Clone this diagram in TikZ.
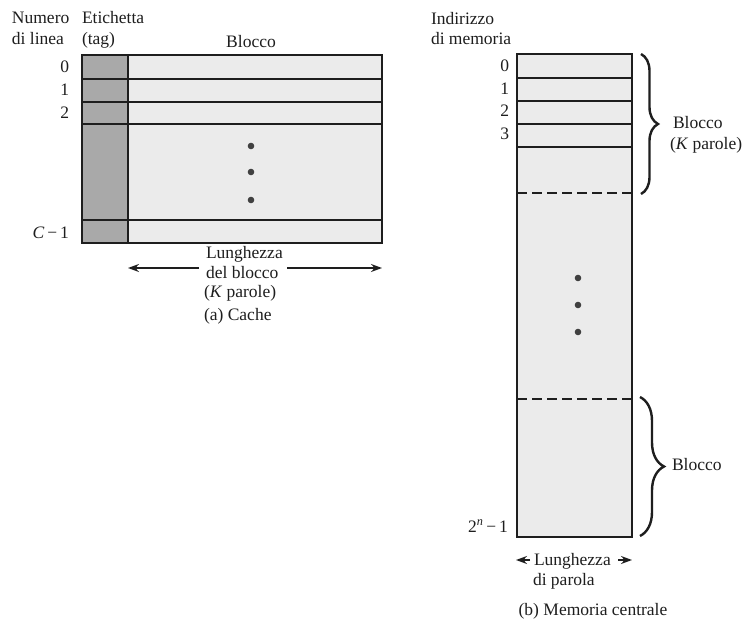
\documentclass[tikz,border=0pt]{standalone}
\usepackage{fontspec}
\setmainfont{Liberation Serif}
\usetikzlibrary{arrows.meta,decorations.pathreplacing}
\definecolor{cellfill}{HTML}{EBEBEB}
\definecolor{tagfill}{HTML}{A9A9A9}
\definecolor{inkc}{HTML}{1E1E1E}
\begin{document}
\begin{tikzpicture}[x=1pt,y=-1pt,
  every node/.style={inner sep=0pt,outer sep=0pt,text=inkc,font=\fontsize{17.5}{21}\selectfont},
  frame/.style={draw=inkc,line width=1.6pt},
  rowline/.style={draw=inkc,line width=1.6pt},
  dashline/.style={draw=inkc,line width=1.6pt,dash pattern=on 10pt off 5pt},
  arr/.style={draw=inkc,line width=1.4pt,-{Stealth[length=11pt,width=8pt]}},
  brc/.style={draw=inkc,line width=2.4pt,decorate},
  dotc/.style={fill=inkc!85}]
\useasboundingbox (0,0) rectangle (753,620);
\fill[white] (0,0) rectangle (753,620);

% ---------------- Cache ----------------
\fill[tagfill] (82,55) rectangle (128,243);
\fill[cellfill] (128,55) rectangle (382,243);
\draw[frame] (82,55) rectangle (382,243);
\draw[rowline] (128,55) -- (128,243);
\foreach \yy in {79,102,124,220} \draw[rowline] (82,\yy) -- (382,\yy);
\foreach \yy in {146,172,200} \fill[dotc] (251,\yy) circle (3.3pt);

\node[anchor=base west] (numA) at (12,24) {Numero};
\node[anchor=base west] (numB) at (12,45) {di linea};
\node[anchor=base west] (etA) at (82,24) {Etichetta};
\node[anchor=base west] (etB) at (82,45) {(tag)};
\node[anchor=base] (blk) at (251,48) {Blocco};
\node[anchor=base east] (r0) at (69,73) {0};
\node[anchor=base east] (r1) at (69,96) {1};
\node[anchor=base east] (r2) at (69,119) {2};
\node[anchor=base east] (rc) at (69,239) {\textit{C}\,−\,1};

\node[anchor=base west] (lA) at (206,259) {Lunghezza};
\node[anchor=base west] (lB) at (206,279) {del blocco};
\node[anchor=base west] (lC) at (204,298) {(\textit{K} parole)};
\node[anchor=base west] (capA) at (204,321) {(a) Cache};
\coordinate (cl1) at (199,268);
\coordinate (cl2) at (128,268);
\coordinate (cr1) at (287,268);
\coordinate (cr2) at (382,268);
\draw[arr] (cl1) -- (cl2);
\draw[arr] (cr1) -- (cr2);

% ---------------- Main memory ----------------
\fill[cellfill] (517,54) rectangle (632,537);
\draw[frame] (517,54) rectangle (632,537);
\foreach \yy in {78,101,124,147} \draw[rowline] (517,\yy) -- (632,\yy);
\draw[dashline] (517,193) -- (632,193);
\draw[dashline] (517,399) -- (632,399);
\foreach \yy in {278,305,332} \fill[dotc] (578,\yy) circle (3.3pt);

\node[anchor=base west] (indA) at (431,25) {Indirizzo};
\node[anchor=base west] (indB) at (431,45) {di memoria};
\node[anchor=base east] (m0) at (509,72) {0};
\node[anchor=base east] (m1) at (509,95) {1};
\node[anchor=base east] (m2) at (509,117) {2};
\node[anchor=base east] (m3) at (509,140) {3};
\node[anchor=base east] (mn) at (508,532) {2\textsuperscript{\textit{n}}\,−\,1};

\coordinate (b1t) at (641,54);
\coordinate (b1b) at (641,194);
\draw[brc,decoration={brace,amplitude=17pt}] (b1t) -- (b1b);
\node[anchor=base west] (bk1) at (673,129) {Blocco};
\node[anchor=base west] (bk2) at (670,150) {(\textit{K} parole)};

\coordinate (b2t) at (640,397);
\coordinate (b2b) at (640,536);
\draw[brc,decoration={brace,amplitude=24pt}] (b2t) -- (b2b);
\node[anchor=base west] (bk3) at (672,471) {Blocco};

\node[anchor=base west] (wl) at (534,565) {Lunghezza};
\node[anchor=base west] (wp) at (533,585) {di parola};
\node[anchor=base] (capB) at (593,615) {(b) Memoria centrale};
\coordinate (wa1) at (530,560);
\coordinate (wa2) at (516,560);
\coordinate (wb1) at (618,560);
\coordinate (wb2) at (632,560);
\draw[arr] (wa1) -- (wa2);
\draw[arr] (wb1) -- (wb2);
\end{tikzpicture}
\end{document}
